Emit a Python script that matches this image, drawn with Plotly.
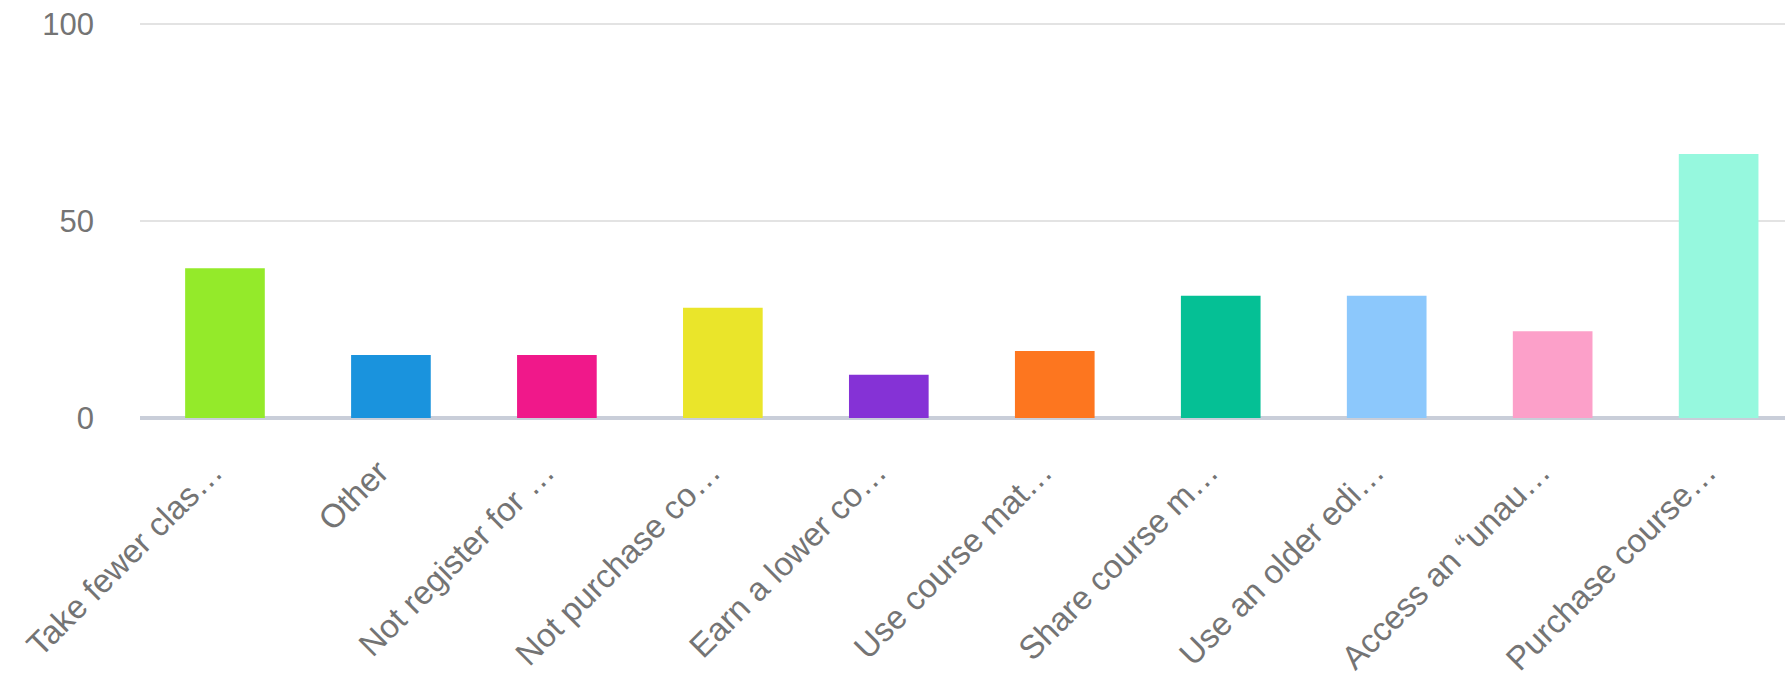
import plotly.graph_objects as go

categories = [
    "Take fewer clas…",
    "Other",
    "Not register for …",
    "Not purchase co…",
    "Earn a lower co…",
    "Use course mat…",
    "Share course m…",
    "Use an older edi…",
    "Access an “unau…",
    "Purchase course…",
]
values = [38, 16, 16, 28, 11, 17, 31, 31, 22, 67]
colors = [
    "#94EA2A", "#1A93DD", "#F0188A", "#EAE52A", "#8532D6",
    "#FD761F", "#05C095", "#8CC8FC", "#FCA0C9", "#96F8DE",
]
y_ticks = [0, 50, 100]

fig = go.Figure(
    go.Bar(
        x=list(range(len(categories))),
        y=values,
        marker=dict(color=colors, line=dict(width=0)),
        width=0.48,
    )
)

font_family = "Liberation Sans, Arial, sans-serif"
fig.update_layout(
    width=1785,
    height=677,
    margin=dict(l=140, r=0, t=20, b=259),
    paper_bgcolor="white",
    plot_bgcolor="white",
    showlegend=False,
    font=dict(family=font_family, size=30, color="#747474"),
)
fig.update_xaxes(
    range=[-0.512, 9.40],
    tickmode="array",
    tickvals=list(range(len(categories))),
    ticktext=categories,
    tickangle=-45,
    tickfont=dict(size=33, color="#747474"),
    showgrid=False,
    showline=False,
    zeroline=False,
    ticks="",
    ticklabelstandoff=27,
    ticklabelshift=-12,
)
fig.update_yaxes(
    range=[0, 101],
    tickmode="array",
    tickvals=y_ticks,
    ticktext=[str(v) for v in y_ticks],
    tickfont=dict(size=31, color="#747474"),
    showgrid=True,
    gridcolor="#E3E3E3",
    gridwidth=2,
    zeroline=True,
    zerolinecolor="#C9CED9",
    zerolinewidth=4,
    showline=False,
    ticks="",
    ticklabelstandoff=45,
)

fig.write_html(
    "out.html",
    config={"displayModeBar": False},
    post_script="document.body.style.margin='0';",
)
